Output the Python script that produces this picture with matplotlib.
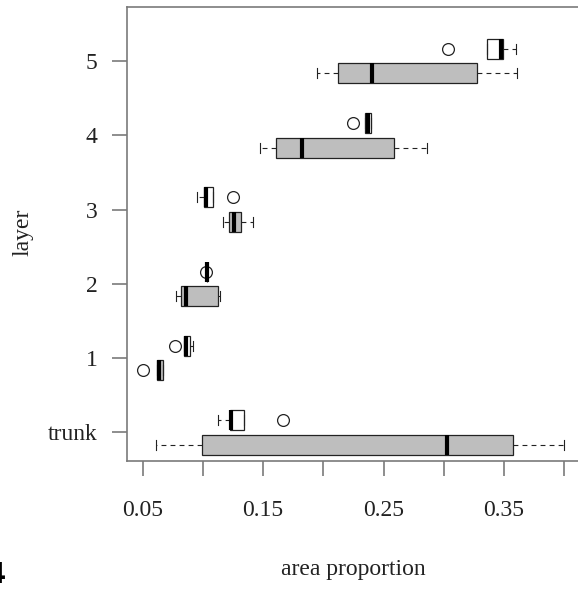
import matplotlib
matplotlib.use("Agg")
import matplotlib.pyplot as plt

plt.rcParams['font.family'] = ['Liberation Serif', 'DejaVu Serif']
plt.rcParams['lines.scale_dashes'] = False

layers = ["trunk", "1", "2", "3", "4", "5"]

# gray boxes (drawn just below each tick)
gray_lo = [0.061, 0.0616, 0.0777, 0.1169, 0.1474, 0.1944]
gray_q1 = [0.099, 0.0616, 0.0815, 0.1219, 0.1607, 0.2124]
gray_med = [0.3024, 0.0638, 0.0859, 0.1258, 0.1825, 0.2406]
gray_q3 = [0.3577, 0.0671, 0.1128, 0.1314, 0.2586, 0.3273]
gray_hi = [0.400, 0.0671, 0.1142, 0.1418, 0.2863, 0.361]
gray_out = [[], [0.0505], [], [], [], []]

# white boxes (drawn just above each tick)
white_lo = [0.1128, 0.0845, 0.1031, 0.0948, 0.2345, 0.3356]
white_q1 = [0.1225, 0.0845, 0.1031, 0.1009, 0.2345, 0.3356]
white_med = [0.1235, 0.0859, 0.1031, 0.1025, 0.2368, 0.3475]
white_q3 = [0.1344, 0.0893, 0.1031, 0.1086, 0.2393, 0.3489]
white_hi = [0.1344, 0.092, 0.1031, 0.1086, 0.2393, 0.360]
white_out = [[0.1667], [0.0768], [0.1025], [0.1252], [0.2248], [0.3032]]

xticks = [0.05, 0.10, 0.15, 0.20, 0.25, 0.30, 0.35, 0.40]
xticklabels = ["0.05", "", "0.15", "", "0.25", "", "0.35", ""]


def make_stats(lo, q1, med, q3, hi, out):
    return [dict(whislo=a, q1=b, med=c, q3=d, whishi=e, fliers=f)
            for a, b, c, d, e, f in zip(lo, q1, med, q3, hi, out)]


fig = plt.figure(figsize=(5.78, 5.90), dpi=100)
ax = fig.add_axes([0.2192, 0.2186, 0.786, 0.770])

pos = list(range(1, len(layers) + 1))
off = 0.165
common = dict(
    vert=False, widths=0.27, patch_artist=True, showfliers=True,
    whiskerprops=dict(color='#222222', lw=0.8, linestyle=(0, (3.5, 3))),
    capprops=dict(color='#222222', lw=0.8),
    medianprops=dict(color='black', lw=3, solid_capstyle='butt'),
    flierprops=dict(marker='o', markerfacecolor='none', markeredgecolor='#222222',
                    markersize=8.5, markeredgewidth=0.9),
)
ax.bxp(make_stats(gray_lo, gray_q1, gray_med, gray_q3, gray_hi, gray_out),
       positions=[p - off for p in pos],
       boxprops=dict(facecolor='#bebebe', edgecolor='#222222', lw=0.9), **common)
ax.bxp(make_stats(white_lo, white_q1, white_med, white_q3, white_hi, white_out),
       positions=[p + off for p in pos],
       boxprops=dict(facecolor='white', edgecolor='#222222', lw=0.9), **common)

ax.set_xlim(0.0367, 0.414)
ax.set_ylim(0.614, 6.731)
ax.set_yticks(pos)
ax.set_yticklabels(layers)
ax.set_xticks(xticks)
ax.set_xticklabels(xticklabels)

for s in ax.spines.values():
    s.set_color('#7a7a7a')
    s.set_linewidth(1.2)
ax.tick_params(axis='both', colors='#7a7a7a', labelcolor='#222222', length=11,
               width=1.2, labelsize=17)
ax.tick_params(axis='x', pad=17)
ax.tick_params(axis='y', pad=10)

# axis titles placed in figure coordinates
fig.text(353 / 578, 1 - 570 / 590, "area proportion", fontsize=17,
         color='#222222', ha='center', va='center')
fig.text(23 / 578, 1 - 232 / 590, "layer", fontsize=17, color='#222222',
         ha='center', va='center', rotation=90)

fig.text(6 / 578, 1 - 583 / 590, "4", fontsize=21, fontweight='bold',
         family='DejaVu Sans', ha='right', va='baseline', color='black')

fig.savefig("out.png", dpi=100)
